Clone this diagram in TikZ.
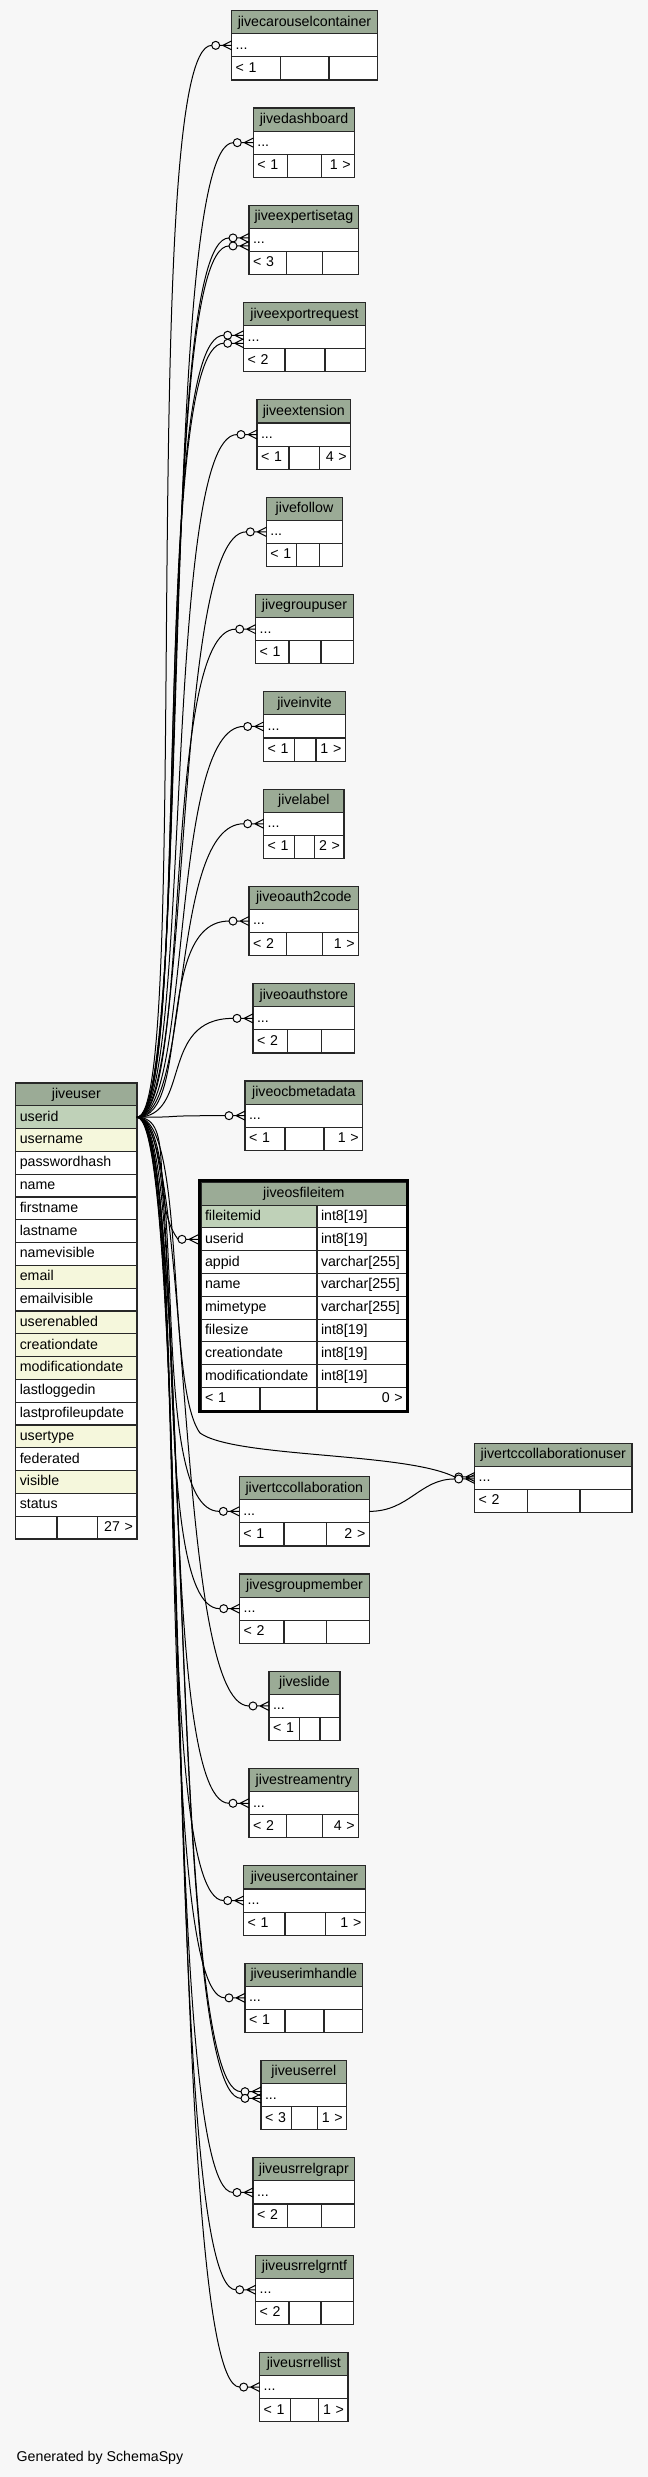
\documentclass[tikz,border=0pt]{standalone}
\usepackage{fontspec}
\setmainfont{Liberation Sans}
\usetikzlibrary{positioning}
\definecolor{SpyBack}{RGB}{247,247,247}
\definecolor{SpyHead}{RGB}{155,171,150}
\definecolor{SpyKey}{RGB}{191,209,184}
\definecolor{SpyIndex}{RGB}{245,247,220}
\definecolor{SpyLine}{RGB}{40,40,40}

% small related table: name, title, left, split1, split2, right, top, footer texts
\newcommand{\fktable}[9]{%
  \pgfmathsetmacro\wfull{#6-#3-8}%
  \pgfmathsetmacro\wleft{#4-#3-8}%
  \pgfmathsetmacro\wmid{#5-#4-8}%
  \pgfmathsetmacro\wright{#6-#5-8}%
  \node[headcell, text width=\wfull pt] (#1) at (#3,#7) {#2};%
  \node[leftcell, text width=\wfull pt] (#1-dots) at (#3,#7+23.1) {...};%
  \node[leftcell, text width=\wleft pt] (#1-lft) at (#3,#7+46.2) {#8};%
  \node[tblcell, text width=\wmid pt] (#1-mid) at (#4,#7+46.2) {};%
  \node[rightcell, text width=\wright pt] (#1-rgt) at (#5,#7+46.2) {#9};%
}

\begin{document}
\begin{tikzpicture}[x=1pt, y=-1pt,
  every node/.style={font=\fontsize{14.2}{16}\selectfont},
  tblcell/.style={draw=SpyLine, line width=1.1pt, fill=white, inner xsep=4pt, inner ysep=0pt,
    outer sep=0pt, minimum height=23.1pt, text height=10.4pt, text depth=2.6pt, anchor=north west},
  headcell/.style={tblcell, fill=SpyHead, align=center},
  leftcell/.style={tblcell, align=left},
  rightcell/.style={tblcell, align=right},
  fkline/.style={draw=black, line width=1pt},
  crowodot/.pic={
    \draw[line width=1pt] (-12,0) -- (0,0) (-9,0) -- (0,-4.5) (-9,0) -- (0,4.5);
    \draw[line width=1pt, fill=SpyBack] (-16,0) circle[radius=4];
  }]
  \fill[SpyBack] (0,0) rectangle (648,2477);
  \useasboundingbox (0,0) rectangle (648,2477);

  % the central table
  \node[headcell, text width=113.2pt, minimum height=22.8pt] (jiveuser) at (15.8,1083) {jiveuser};
  \foreach \c/\f [count=\i] in {userid/SpyKey, username/SpyIndex, passwordhash/white, name/white,
      firstname/white, lastname/white, namevisible/white, email/SpyIndex, emailvisible/white,
      userenabled/SpyIndex, creationdate/SpyIndex, modificationdate/SpyIndex, lastloggedin/white,
      lastprofileupdate/white, usertype/SpyIndex, federated/white, visible/SpyIndex, status/white}
    \node[leftcell, fill=\f, text width=113.2pt, minimum height=22.8pt] (jiveuser-\c) at (15.8,1083+22.8*\i) {\c};
  \node[leftcell, text width=33.2pt, minimum height=22.8pt] (jiveuser-lft) at (15.8,1516.2) {};
  \node[tblcell, text width=32.5pt, minimum height=22.8pt] (jiveuser-mid) at (57,1516.2) {};
  \node[rightcell, text width=31.5pt, minimum height=22.8pt] (jiveuser-rgt) at (97.5,1516.2) {27 >};

  % tables that point at jiveuser
  \fktable{carousel}{jivecarouselcontainer}{231.7}{280.7}{329}{377.3}{10.7}{< 1}{}
  \fktable{dashboard}{jivedashboard}{253.3}{287.7}{321.3}{354.7}{108}{< 1}{1 >}
  \fktable{expertise}{jiveexpertisetag}{249}{286.3}{322.3}{358.7}{205.3}{< 3}{}
  \fktable{exportreq}{jiveexportrequest}{243.7}{285}{325}{365.3}{302.6}{< 2}{}
  \fktable{extension}{jiveextension}{257}{289}{319.7}{350.7}{399.9}{< 1}{4 >}
  \fktable{follow}{jivefollow}{266.3}{296.7}{319.7}{342.7}{497.2}{< 1}{}
  \fktable{groupuser}{jivegroupuser}{255.7}{289}{321}{353.3}{594.5}{< 1}{}
  \fktable{invite}{jiveinvite}{263.7}{294.3}{316}{345.3}{691.8}{< 1}{1 >}
  \fktable{label}{jivelabel}{263.7}{294.3}{314.7}{344}{789.1}{< 1}{2 >}
  \fktable{oauthcode}{jiveoauth2code}{249}{286.3}{322.3}{358.7}{886.4}{< 2}{1 >}
  \fktable{oauthstore}{jiveoauthstore}{253}{287.7}{321.3}{354.7}{983.7}{< 2}{}
  \fktable{ocbmeta}{jiveocbmetadata}{245}{285}{324}{362.7}{1081}{< 1}{1 >}
  \fktable{rtcuser}{jivertccollaborationuser}{474.7}{527.7}{580}{632}{1443.3}{< 2}{}
  \fktable{rtccollab}{jivertccollaboration}{239.3}{284}{326.7}{369.3}{1476.7}{< 1}{2 >}
  \fktable{sgroupmember}{jivesgroupmember}{239.7}{284}{326.7}{369.3}{1574}{< 2}{}
  \fktable{slide}{jiveslide}{269}{299.7}{320}{340}{1671.3}{< 1}{}
  \fktable{streamentry}{jivestreamentry}{249}{286.3}{322.3}{358.7}{1768.6}{< 2}{4 >}
  \fktable{usercontainer}{jiveusercontainer}{243.7}{285}{325.3}{365.3}{1865.9}{< 1}{1 >}
  \fktable{imhandle}{jiveuserimhandle}{245}{285}{324}{362.7}{1963.2}{< 1}{}
  \fktable{userrel}{jiveuserrel}{261}{291.7}{317.3}{346.7}{2060.5}{< 3}{1 >}
  \fktable{relgrapr}{jiveusrrelgrapr}{253}{287.7}{321.3}{354.7}{2157.8}{< 2}{}
  \fktable{relgrntf}{jiveusrrelgrntf}{255.7}{289}{321}{353.3}{2255.1}{< 2}{}
  \fktable{rellist}{jiveusrrellist}{259.7}{290.7}{318.7}{348}{2352.4}{< 1}{1 >}

  % the one table shown with its columns
  \node[headcell, text width=197.7pt, minimum height=22.8pt] (fileitem) at (201,1182.3) {jiveosfileitem};
  \foreach \c/\ty/\f [count=\i] in {fileitemid/int8[19]/SpyKey, userid/int8[19]/white,
      appid/varchar[255]/white, name/varchar[255]/white, mimetype/varchar[255]/white,
      filesize/int8[19]/white, creationdate/int8[19]/white, modificationdate/int8[19]/white}
    {
    \node[leftcell, fill=\f, text width=108pt, minimum height=22.8pt] (fileitem-\c) at (201,1182.3+22.8*\i) {\c};
    \node[leftcell, text width=81.7pt, minimum height=22.8pt] (fileitem-\c-type) at (317,1182.3+22.8*\i) {\ty};
    }
  \node[leftcell, text width=51pt, minimum height=22.8pt] (fileitem-lft) at (201,1387.5) {< 1};
  \node[tblcell, text width=49pt, minimum height=22.8pt] (fileitem-mid) at (260,1387.5) {};
  \node[rightcell, text width=81.7pt, minimum height=22.8pt] (fileitem-rgt) at (317,1387.5) {0 >};
  \draw[line width=3pt] (199.8,1180.5) rectangle (407.5,1411.2);

  % foreign keys
  \foreach \t/\s in {carousel/0, dashboard/0, expertise/2, expertise/-6, exportreq/2, exportreq/-6,
      extension/0, follow/0, groupuser/0, invite/0, label/0, oauthcode/0, oauthstore/0, ocbmeta/0,
      rtccollab/0, sgroupmember/0, slide/0, streamentry/0, usercontainer/0, imhandle/0,
      userrel/3.5, userrel/-3.2, relgrapr/0, relgrntf/0, rellist/0}
    {
    \draw[fkline] (jiveuser-userid.east) .. controls +(55,0) and +(-75,0) .. ([xshift=-20pt,yshift=\s pt]\t-dots.west);
    \pic at ([yshift=\s pt]\t-dots.west) {crowodot};
    }
  \draw[fkline] (jiveuser-userid.east) .. controls +(40,0) and +(-30,-40) .. ([xshift=-23pt]fileitem-userid.west);
  \pic at ([xshift=-3pt]fileitem-userid.west) {crowodot};
  \draw[fkline] (jiveuser-userid.east) .. controls +(50,0) and (165,1385) .. (200,1433)
    .. controls (235,1458) and (405,1452) .. ([xshift=-20pt,yshift=1pt]rtcuser-dots.west);
  \draw[fkline] (rtccollab-dots.east) .. controls +(40,0) and +(-35,0) .. ([xshift=-20pt,yshift=-1pt]rtcuser-dots.west);
  \pic at ([yshift=1pt]rtcuser-dots.west) {crowodot};
  \pic at ([yshift=-1pt]rtcuser-dots.west) {crowodot};

  \node[anchor=base west, inner sep=0pt] (credit) at (16.5,2461.5) {Generated by SchemaSpy};
\end{tikzpicture}
\end{document}
